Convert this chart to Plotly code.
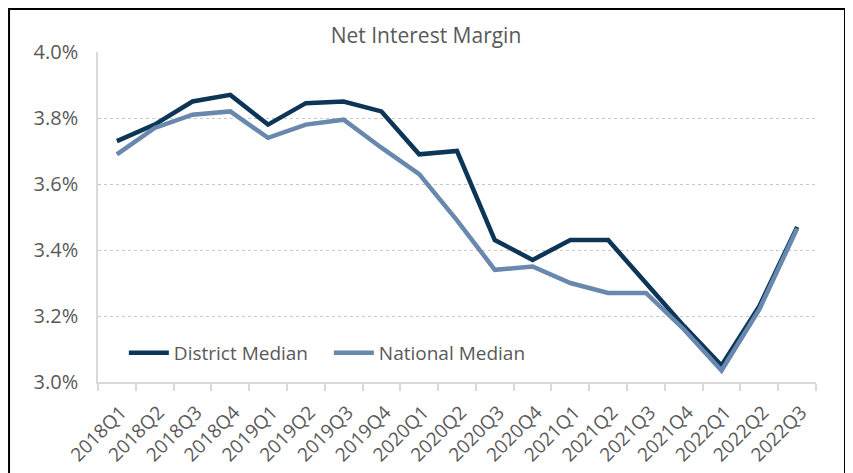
import plotly.graph_objects as go

# Data (percent)
quarters = [
    "2018Q1", "2018Q2", "2018Q3", "2018Q4",
    "2019Q1", "2019Q2", "2019Q3", "2019Q4",
    "2020Q1", "2020Q2", "2020Q3", "2020Q4",
    "2021Q1", "2021Q2", "2021Q3", "2021Q4",
    "2022Q1", "2022Q2", "2022Q3",
]
district_median = [
    3.73, 3.78, 3.85, 3.87,
    3.78, 3.845, 3.85, 3.82,
    3.69, 3.70, 3.43, 3.37,
    3.43, 3.43, 3.30, 3.17,
    3.05, 3.23, 3.47,
]
national_median = [
    3.69, 3.77, 3.81, 3.82,
    3.74, 3.78, 3.795, 3.71,
    3.63, 3.49, 3.34, 3.35,
    3.30, 3.27, 3.27, 3.16,
    3.035, 3.22, 3.465,
]
y_ticks = [3.0, 3.2, 3.4, 3.6, 3.8, 4.0]

DARK = "#0c3557"
LIGHT = "#6888ad"
TEXT = "#595959"
AXIS = "#d9d9d9"
FONT = "Open Sans"

# the page body has an 8px margin, so the figure is sized to fit the window
W, H = 845, 465

fig = go.Figure()

fig.add_trace(go.Scatter(
    x=quarters, y=district_median,
    mode="lines", name="District Median",
    line=dict(color=DARK, width=4.5),
))
fig.add_trace(go.Scatter(
    x=quarters, y=national_median,
    mode="lines", name="National Median",
    line=dict(color=LIGHT, width=4.5),
))

# outer frame around the chart
fig.add_shape(
    type="rect", xref="paper", yref="paper",
    x0=-0.1239, x1=1.0404, y0=-0.6, y1=1.13,
    line=dict(color="black", width=2), layer="above",
)

fig.update_layout(
    width=W, height=H,
    margin=dict(l=90, r=37, t=44, b=91),
    paper_bgcolor="white", plot_bgcolor="white",
    font=dict(family=FONT, color=TEXT, size=19),
    title=dict(
        text="Net Interest Margin", x=(426 - 8) / W, xanchor="center",
        y=1 - 28 / H, yanchor="middle", yref="container",
        font=dict(size=21, color=TEXT, family=FONT),
    ),
    legend=dict(
        orientation="h", x=0.036, xanchor="left", y=0.088, yanchor="middle",
        bgcolor="rgba(0,0,0,0)", font=dict(size=19, color=TEXT),
        itemwidth=40, entrywidth=150,
    ),
    xaxis=dict(
        type="category", range=[-0.5, len(quarters) - 0.5],
        showline=True, linecolor=AXIS, linewidth=1.5,
        ticks="outside", tickson="boundaries", ticklen=7,
        tickcolor=AXIS, tickwidth=1.5,
        tickangle=-45, tickfont=dict(size=19, color=TEXT),
        ticklabelstandoff=10, ticklabelshift=4,
        showgrid=False, automargin=False,
    ),
    yaxis=dict(
        range=[3.0, 4.0], tickvals=y_ticks,
        ticktext=[f"{v:.1f}%" for v in y_ticks],
        showline=True, linecolor=AXIS, linewidth=1.5,
        showgrid=True, gridcolor="#c8c8c8", griddash="dot", gridwidth=1,
        zeroline=False, ticks="", ticklabelstandoff=14,
        tickfont=dict(size=20, color=TEXT), automargin=False,
    ),
)

fig.write_html("out.html")
